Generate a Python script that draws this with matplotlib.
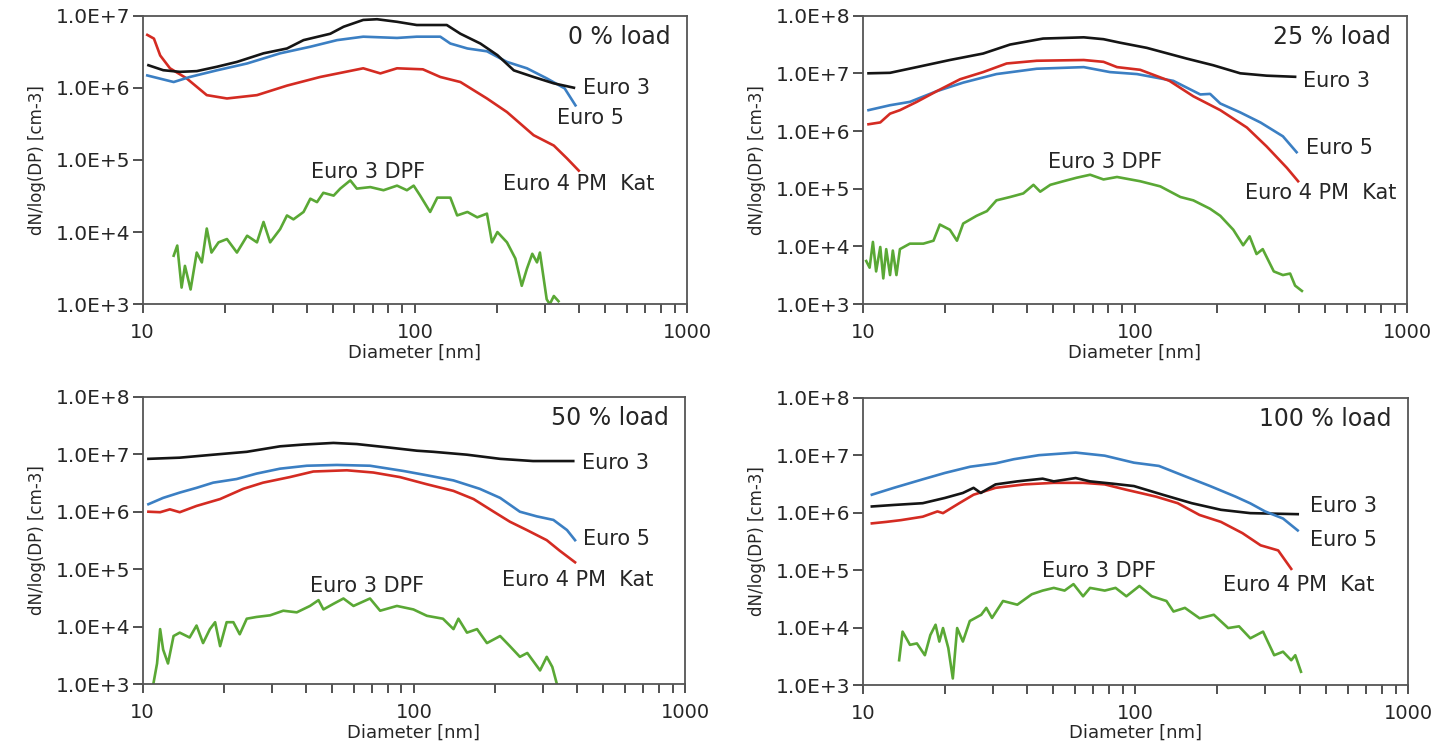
import numpy as np
import matplotlib
matplotlib.use("Agg")
import matplotlib.pyplot as plt
from matplotlib import ticker

# ---- data (diameter in nm, dN/log(DP) in cm-3) ----
# 0 % load
p0_e3_d = [10.5, 11.9, 13.7, 15.8, 18.7, 22.2, 27.8, 33.9, 39.0, 48.9, 54.7, 64.6, 72.6, 86,
           101.6, 131, 147, 174, 201, 231, 273, 324, 384]
p0_e3_v = [2.05e6, 1.75e6, 1.66e6, 1.7e6, 1.95e6, 2.28e6, 3.0e6, 3.5e6, 4.57e6, 5.6e6, 7.0e6,
           8.7e6, 8.9e6, 8.2e6, 7.4e6, 7.4e6, 5.6e6, 4.1e6, 2.83e6, 1.74e6, 1.41e6, 1.15e6, 1.0e6]
p0_e5_d = [10.4, 13.0, 14.9, 18.7, 24.2, 32.0, 41.3, 51.8, 64.6, 86, 101.6, 124, 135, 156, 184,
           218, 258, 305, 355, 389]
p0_e5_v = [1.48e6, 1.2e6, 1.41e6, 1.74e6, 2.17e6, 3.0e6, 3.7e6, 4.57e6, 5.1e6, 4.9e6, 5.1e6,
           5.1e6, 4.1e6, 3.5e6, 3.2e6, 2.28e6, 1.86e6, 1.35e6, 9.8e5, 5.7e5]
p0_e4_d = [10.4, 11.0, 11.6, 12.6, 14.5, 17.2, 20.4, 26.3, 33.9, 44.9, 64.6, 74.7, 86, 107, 124,
           147, 184, 218, 273, 324, 362, 400]
p0_e4_v = [5.4e6, 4.8e6, 2.8e6, 1.86e6, 1.35e6, 7.9e5, 7.1e5, 7.9e5, 1.07e6, 1.41e6, 1.86e6,
           1.58e6, 1.86e6, 1.8e6, 1.41e6, 1.2e6, 7.1e5, 4.6e5, 2.2e5, 1.58e5, 1.05e5, 7.1e4]
p0_dpf_d = [13.0, 13.4, 13.9, 14.3, 15.0, 15.8, 16.5, 17.2, 17.9, 19.0, 20.4, 22.2, 24.2, 26.3,
            27.8, 29.4, 32.0, 33.9, 35.8, 39.0, 41.3, 43.7, 46.1, 50.3, 53.2, 57.9, 61.2, 68.6,
            76.7, 86, 93.5, 99, 104.6, 113.8, 120.9, 135, 143, 156, 169.5, 184, 192, 201, 218,
            234, 247, 258, 270, 281, 288, 305, 313, 324, 337]
p0_dpf_v = [4.7e3, 6.5e3, 1.7e3, 3.4e3, 1.6e3, 5.2e3, 3.8e3, 1.12e4, 5.2e3, 7.2e3, 8e3, 5.2e3,
            8.9e3, 7.2e3, 1.38e4, 7.2e3, 1.1e4, 1.7e4, 1.5e4, 1.9e4, 2.9e4, 2.6e4, 3.5e4, 3.2e4,
            4.0e4, 5.2e4, 4e4, 4.2e4, 3.8e4, 4.4e4, 3.8e4, 4.4e4, 3.2e4, 1.9e4, 3.0e4, 3.0e4,
            1.7e4, 1.9e4, 1.6e4, 1.8e4, 7.2e3, 1.0e4, 7.2e3, 4.3e3, 1.8e3, 3.1e3, 5.0e3, 3.8e3,
            5.2e3, 1.17e3, 1.0e3, 1.3e3, 1.1e3]

# 25 % load
p1_e3_d = [10.5, 12.6, 15.8, 20.9, 27.7, 34.8, 46, 64.9, 76.7, 88, 110.6, 155, 194, 244, 305, 388]
p1_e3_v = [1.0e7, 1.02e7, 1.28e7, 1.7e7, 2.2e7, 3.15e7, 4.0e7, 4.2e7, 3.9e7, 3.4e7, 2.76e7,
           1.8e7, 1.38e7, 1.0e7, 9.1e6, 8.7e6]
p1_e5_d = [10.5, 12.6, 14.9, 18.7, 23.4, 31, 43.6, 64.9, 81, 101.8, 138.5, 174, 189, 206, 244,
           290, 350, 393]
p1_e5_v = [2.3e6, 2.8e6, 3.2e6, 4.9e6, 6.9e6, 9.7e6, 1.2e7, 1.28e7, 1.05e7, 9.7e6, 7.4e6, 4.3e6,
           4.4e6, 3.0e6, 2.1e6, 1.4e6, 8.1e5, 4.3e5]
p1_e4_d = [10.5, 11.6, 12.6, 13.7, 15.8, 18.7, 22.8, 27.7, 33.8, 43.6, 64.9, 76.7, 86, 104.6,
           134, 164, 206, 258, 305, 362, 398]
p1_e4_v = [1.31e6, 1.41e6, 2.0e6, 2.3e6, 3.2e6, 4.9e6, 7.9e6, 1.05e7, 1.48e7, 1.65e7, 1.7e7,
           1.58e7, 1.28e7, 1.15e7, 7.4e6, 4.0e6, 2.3e6, 1.15e6, 5.4e5, 2.3e5, 1.35e5]
p1_dpf_d = [10.3, 10.6, 10.9, 11.2, 11.6, 11.9, 12.2, 12.6, 12.9, 13.3, 13.7, 14.9, 16.7, 18.2,
            19.2, 20.9, 22.2, 23.4, 26.2, 28.6, 31.0, 34.8, 38.9, 42.4, 44.9, 48.9, 54.6, 61,
            68.5, 76.7, 86, 104.6, 124, 147, 164, 189, 206, 230, 250, 264, 280, 295, 324, 350,
            372, 388, 411]
p1_dpf_v = [5.6e3, 4.3e3, 1.2e4, 3.7e3, 9.8e3, 2.8e3, 9.0e3, 3.2e3, 8.5e3, 3.2e3, 9e3, 1.12e4,
            1.12e4, 1.26e4, 2.4e4, 1.95e4, 1.26e4, 2.5e4, 3.4e4, 4.1e4, 6.3e4, 7.2e4, 8.3e4,
            1.17e5, 8.9e4, 1.17e5, 1.35e5, 1.55e5, 1.75e5, 1.45e5, 1.6e5, 1.35e5, 1.1e5, 7.2e4,
            6.3e4, 4.5e4, 3.4e4, 1.95e4, 1.05e4, 1.5e4, 7.4e3, 9e3, 3.7e3, 3.2e3, 3.4e3, 2.1e3,
            1.7e3]

# 50 % load
p2_e3_d = [10.5, 13.7, 18.2, 24.2, 32.1, 39.1, 50.5, 61.6, 81.7, 102.6, 118, 157, 208, 275, 387]
p2_e3_v = [8.3e6, 8.7e6, 9.8e6, 1.1e7, 1.37e7, 1.47e7, 1.57e7, 1.5e7, 1.3e7, 1.15e7, 1.1e7,
           9.8e6, 8.3e6, 7.6e6, 7.6e6]
p2_e5_d = [10.5, 11.9, 13.7, 15.8, 18.2, 22.2, 26.3, 32.1, 40.3, 52, 68.9, 91.7, 111.7, 140, 175,
           208, 246, 284, 327, 367, 393]
p2_e5_v = [1.35e6, 1.74e6, 2.15e6, 2.6e6, 3.2e6, 3.7e6, 4.6e6, 5.6e6, 6.3e6, 6.5e6, 6.3e6,
           5.1e6, 4.3e6, 3.5e6, 2.5e6, 1.74e6, 1.0e6, 8.3e5, 7.2e5, 4.8e5, 3.2e5]
p2_e4_d = [10.5, 11.6, 12.6, 13.7, 15.8, 19.3, 23.5, 27.8, 34.9, 42.6, 56.6, 70.9, 88.8, 111.7,
           140, 166, 197, 226, 261, 309, 345, 393]
p2_e4_v = [1.0e6, 9.8e5, 1.1e6, 9.8e5, 1.26e6, 1.66e6, 2.5e6, 3.2e6, 4.0e6, 5.0e6, 5.25e6, 4.8e6,
           4.0e6, 3.0e6, 2.3e6, 1.66e6, 1.0e6, 6.7e5, 4.8e5, 3.2e5, 2.1e5, 1.32e5]
p2_dpf_d = [10.9, 11.3, 11.6, 11.9, 12.4, 13.0, 13.7, 14.9, 15.8, 16.7, 17.7, 18.5, 19.3, 20.4,
            21.6, 22.8, 24.2, 26.3, 29.5, 33.0, 37.0, 41.4, 44.5, 46.4, 50.5, 55, 59.9, 68.9,
            75.1, 86.6, 99.6, 111.7, 128, 140, 146, 157, 171, 186, 208, 226, 246, 262, 292, 309,
            324, 337]
p2_dpf_v = [9e2, 2.3e3, 9.1e3, 4e3, 2.3e3, 6.9e3, 7.9e3, 6.5e3, 1.05e4, 5.2e3, 9.1e3, 1.2e4,
            4.6e3, 1.2e4, 1.2e4, 7.4e3, 1.38e4, 1.48e4, 1.58e4, 1.9e4, 1.78e4, 2.3e4, 2.9e4,
            2.0e4, 2.5e4, 3.1e4, 2.3e4, 3.1e4, 1.9e4, 2.3e4, 2.0e4, 1.55e4, 1.38e4, 9.1e3,
            1.38e4, 7.9e3, 9.1e3, 5.2e3, 6.9e3, 4.6e3, 3.0e3, 3.5e3, 1.74e3, 3.0e3, 2.0e3, 1.0e3]

# 100 % load
p3_e3_d = [10.8, 13.0, 16.6, 20, 23.3, 25.5, 27.1, 30.7, 36.9, 45.7, 50.2, 60.4, 68.2, 82.1,
           98.8, 126, 161, 206, 264, 394]
p3_e3_v = [1.28e6, 1.36e6, 1.46e6, 1.8e6, 2.2e6, 2.7e6, 2.2e6, 3.1e6, 3.5e6, 3.9e6, 3.5e6,
           4.0e6, 3.5e6, 3.2e6, 2.9e6, 2.05e6, 1.46e6, 1.12e6, 9.8e5, 9.4e5]
p3_e5_d = [10.8, 13.0, 16.6, 20, 24.8, 30.7, 35.8, 44.3, 60.4, 77.2, 98.8, 122, 152, 188, 233,
           264, 299, 348, 394]
p3_e5_v = [2.05e6, 2.7e6, 3.8e6, 4.9e6, 6.3e6, 7.2e6, 8.5e6, 1.0e7, 1.11e7, 9.8e6, 7.4e6, 6.5e6,
           4.3e6, 2.9e6, 1.9e6, 1.45e6, 1.05e6, 7.9e5, 4.9e5]
p3_e4_d = [10.8, 12.2, 13.8, 16.6, 18.8, 19.7, 22.6, 25.5, 30.7, 39.2, 50.2, 64.3, 77.2, 92.7,
           119, 143, 172, 206, 247, 288, 334, 373]
p3_e4_v = [6.5e5, 6.9e5, 7.4e5, 8.5e5, 1.05e6, 9.8e5, 1.46e6, 2.05e6, 2.7e6, 3.1e6, 3.3e6,
           3.3e6, 3.1e6, 2.5e6, 1.9e6, 1.46e6, 9.1e5, 6.9e5, 4.4e5, 2.7e5, 2.2e5, 1.05e5]
p3_dpf_d = [13.6, 14.0, 14.9, 15.8, 16.9, 17.7, 18.5, 19.1, 19.7, 20.6, 21.4, 22.2, 23.3, 24.7,
            27.2, 28.4, 29.8, 32.7, 36.9, 41.7, 45.7, 50.2, 55, 59.3, 64.3, 68.2, 77.2, 84.6,
            92.7, 103.5, 115, 130, 138, 152, 172, 194, 219, 240, 264, 294, 323, 348, 373, 386,
            405]
p3_dpf_v = [2.7e3, 8.5e3, 5.0e3, 5.3e3, 3.3e3, 7.4e3, 1.12e4, 5.7e3, 9.8e3, 4.4e3, 1.3e3, 9.8e3,
            5.7e3, 1.3e4, 1.67e4, 2.2e4, 1.47e4, 2.9e4, 2.5e4, 3.8e4, 4.4e4, 4.9e4, 4.4e4, 5.7e4,
            3.5e4, 4.9e4, 4.4e4, 4.9e4, 3.5e4, 5.3e4, 3.5e4, 2.9e4, 1.9e4, 2.2e4, 1.45e4, 1.67e4,
            9.8e3, 1.05e4, 6.5e3, 8.5e3, 3.3e3, 3.8e3, 2.7e3, 3.3e3, 1.7e3]

load_titles = ["0 % load", "25 % load", "50 % load", "100 % load"]
series_names = ["Euro 3", "Euro 5", "Euro 4 PM  Kat", "Euro 3 DPF"]

# ---- layout / style ----
colors = {"e3": "#151515", "e5": "#3b7fc3", "e4": "#d42b22", "dpf": "#5aa835"}
ytop = [1e7, 1e8, 1e8, 1e8]
rects = [[0.099, 0.590, 0.3778, 0.389],
         [0.5987, 0.590, 0.3777, 0.389],
         [0.099, 0.0778, 0.3764, 0.3876],
         [0.5987, 0.0768, 0.3784, 0.3872]]
# text anchors (diameter, value) for Euro 3, Euro 5, Euro 4 PM Kat, Euro 3 DPF
label_pos = [[(416, 1.0e6), (334, 3.8e5), (211, 4.7e4), (67.5, 6.7e4)],
             [(416, 7.4e6), (427, 5.0e5), (254, 8.3e4), (78, 2.9e5)],
             [(417, 7.0e6), (420, 3.4e5), (211, 6.5e4), (67.3, 5.1e4)],
             [(438, 1.28e6), (438, 3.3e5), (210, 5.5e4), (73.8, 9.8e4)]]

panels = [
    [(p0_e4_d, p0_e4_v, "e4"), (p0_e5_d, p0_e5_v, "e5"), (p0_e3_d, p0_e3_v, "e3"), (p0_dpf_d, p0_dpf_v, "dpf")],
    [(p1_e5_d, p1_e5_v, "e5"), (p1_e4_d, p1_e4_v, "e4"), (p1_e3_d, p1_e3_v, "e3"), (p1_dpf_d, p1_dpf_v, "dpf")],
    [(p2_e4_d, p2_e4_v, "e4"), (p2_e5_d, p2_e5_v, "e5"), (p2_e3_d, p2_e3_v, "e3"), (p2_dpf_d, p2_dpf_v, "dpf")],
    [(p3_e4_d, p3_e4_v, "e4"), (p3_e3_d, p3_e3_v, "e3"), (p3_e5_d, p3_e5_v, "e5"), (p3_dpf_d, p3_dpf_v, "dpf")],
]

txt = "#262626"
fig = plt.figure(figsize=(14.41, 7.42), dpi=100)

for i in range(4):
    ax = fig.add_axes(rects[i])
    for d, v, key in panels[i]:
        ax.plot(d, v, color=colors[key], lw=1.9, solid_joinstyle="round")

    ax.set_xscale("log")
    ax.set_yscale("log")
    ax.set_xlim(10, 1000)
    ax.set_ylim(1e3, ytop[i])

    ax.xaxis.set_major_locator(ticker.FixedLocator([10, 100, 1000]))
    ax.xaxis.set_major_formatter(ticker.FixedFormatter(["10", "100", "1000"]))
    ax.xaxis.set_minor_locator(ticker.LogLocator(base=10, subs=np.arange(2, 10)))
    ax.xaxis.set_minor_formatter(ticker.NullFormatter())
    ax.yaxis.set_major_locator(ticker.LogLocator(base=10, numticks=10))
    ax.yaxis.set_major_formatter(ticker.FuncFormatter(
        lambda val, pos: "1.0E+%d" % int(round(np.log10(val)))))
    ax.yaxis.set_minor_locator(ticker.NullLocator())

    ax.tick_params(axis="x", which="both", direction="out", length=6.5, width=1.2,
                   color="#333333", pad=7, labelsize=14, labelcolor=txt)
    ax.tick_params(axis="y", which="major", direction="out", length=7, width=1.2,
                   color="#333333", pad=2, labelsize=14.5, labelcolor=txt)
    for sp in ax.spines.values():
        sp.set_color("#555555")
        sp.set_linewidth(1.3)

    ax.set_xlabel("Diameter [nm]", fontsize=13, color=txt, labelpad=1)
    ax.set_ylabel("dN/log(DP) [cm-3]", fontsize=12, color=txt, labelpad=7)

    ax.text(0.97, 0.925, load_titles[i], transform=ax.transAxes, ha="right", va="center",
            fontsize=17, color=txt)
    for j, name in enumerate(series_names):
        x0, y0 = label_pos[i][j]
        ha = "center" if j == 3 else "left"
        ax.text(x0, y0, name, ha=ha, va="center", fontsize=15, color=txt)

fig.savefig("out.png", dpi=100, facecolor="white")
